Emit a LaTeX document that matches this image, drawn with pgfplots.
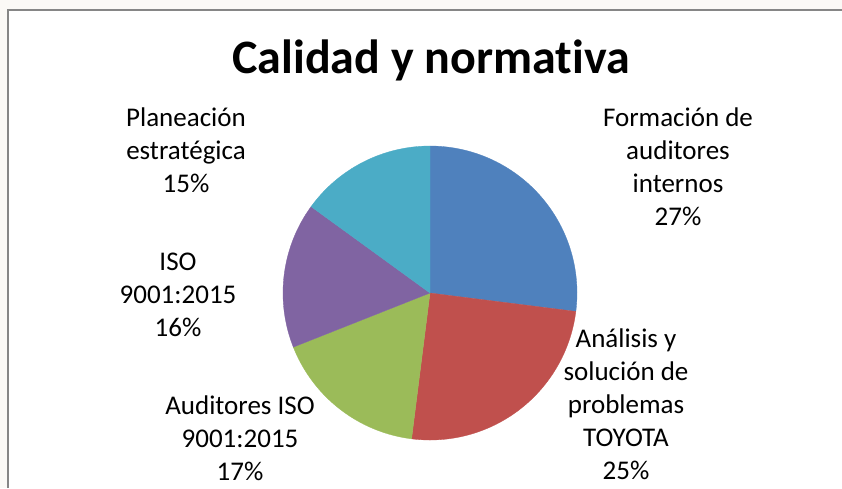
\documentclass[border=0pt]{standalone}
\usepackage{pgfplots}
\pgfplotsset{compat=1.18}
\usepackage{fontspec}
\setmainfont{Carlito}[Ligatures={NoCommon}]
\definecolor{cA}{HTML}{4F81BD}
\definecolor{cB}{HTML}{C0504D}
\definecolor{cC}{HTML}{9BBB59}
\definecolor{cD}{HTML}{8064A2}
\definecolor{cE}{HTML}{4BACC6}
\definecolor{bordergray}{HTML}{868686}
\definecolor{outside}{HTML}{FBF9F6}
% shares (percent), clockwise from 12 o'clock
\def\pA{27}\def\pB{25}\def\pC{17}\def\pD{16}\def\pE{15}
\pgfmathsetmacro\tA{90}
\pgfmathsetmacro\tB{\tA-3.6*\pA}
\pgfmathsetmacro\tC{\tB-3.6*\pB}
\pgfmathsetmacro\tD{\tC-3.6*\pC}
\pgfmathsetmacro\tE{\tD-3.6*\pD}
\pgfmathsetmacro\tF{\tE-3.6*\pE}
\def\cx{430}\def\cy{293}\def\rr{147}
\begin{document}
\begin{tikzpicture}
\useasboundingbox (0,0) rectangle (842pt,488pt);
\fill[outside] (0,0) rectangle (842pt,488pt);
\fill[white] (8pt,0) rectangle (842pt,478pt);
\draw[bordergray, line width=2pt] (8pt,0) -- (8pt,478pt) -- (842pt,478pt);
\begin{axis}[scale only axis, width=842pt, height=488pt,
  xmin=0, xmax=842, ymin=0, ymax=488, y dir=reverse,
  hide axis, clip=false, at={(0,0)}, anchor=south west]
\addplot[fill=cA, draw=cA, line width=0.3pt, domain=\tA:\tB, samples=90] ({\cx+\rr*cos(x)},{\cy-\rr*sin(x)}) -- (axis cs:\cx,\cy) -- cycle;
\addplot[fill=cB, draw=cB, line width=0.3pt, domain=\tB:\tC, samples=90] ({\cx+\rr*cos(x)},{\cy-\rr*sin(x)}) -- (axis cs:\cx,\cy) -- cycle;
\addplot[fill=cC, draw=cC, line width=0.3pt, domain=\tC:\tD, samples=70] ({\cx+\rr*cos(x)},{\cy-\rr*sin(x)}) -- (axis cs:\cx,\cy) -- cycle;
\addplot[fill=cD, draw=cD, line width=0.3pt, domain=\tD:\tE, samples=70] ({\cx+\rr*cos(x)},{\cy-\rr*sin(x)}) -- (axis cs:\cx,\cy) -- cycle;
\addplot[fill=cE, draw=cE, line width=0.3pt, domain=\tE:\tF, samples=70] ({\cx+\rr*cos(x)},{\cy-\rr*sin(x)}) -- (axis cs:\cx,\cy) -- cycle;
\node[anchor=base, inner sep=0pt, font=\fontsize{48}{58}\selectfont\bfseries] at (axis cs:431,73) {Calidad y normativa};
\tikzset{lab/.style={align=center, inner sep=0pt, font=\fontsize{27}{33}\selectfont}}
\node[lab] at (axis cs:678,167) {Formación de\\auditores\\internos\\27\%};
\node[lab] at (axis cs:626,404) {Análisis y\\solución de\\problemas\\TOYOTA\\25\%};
\node[lab] at (axis cs:240,438) {Auditores ISO\\9001:2015\\17\%};
\node[lab] at (axis cs:178,295) {ISO\\9001:2015\\16\%};
\node[lab] at (axis cs:186,150) {Planeación\\estratégica\\15\%};
\end{axis}
\end{tikzpicture}
\end{document}
